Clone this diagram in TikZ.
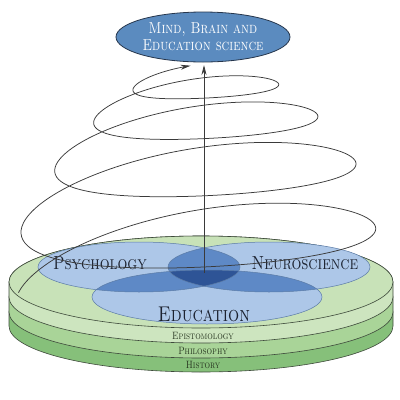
\documentclass[tikz,border=0pt]{standalone}
\usepackage{xcolor}
\usepackage{graphicx}
\usepackage{tikz}
\usetikzlibrary{arrows.meta,shapes.geometric}

\definecolor{mbeblue}{HTML}{5B8BBF}
\definecolor{mbeline}{HTML}{26364C}
\definecolor{venlight}{HTML}{ADC7E8}
\definecolor{venmid}{HTML}{5E89C6}
\definecolor{vendark}{HTML}{2E5496}
\definecolor{venline}{HTML}{5B7BA6}
\definecolor{topgreen}{HTML}{C8E2B8}
\definecolor{epigreen}{HTML}{CDE5BF}
\definecolor{phigreen}{HTML}{A9D498}
\definecolor{hisgreen}{HTML}{86C07A}
\definecolor{rimline}{HTML}{3E4A3B}
\definecolor{labelink}{HTML}{1C2230}
\definecolor{bandink}{HTML}{26341F}
\definecolor{spiralink}{HTML}{3A3A3A}

\newcommand{\tallsc}[1]{\scalebox{1}[1.22]{#1}}

\tikzset{
	rim/.style={draw=rimline,line width=.6pt},
	venn/.style={draw=venline,line width=.5pt},
	fieldlbl/.style={text=labelink,font=\fontsize{15.5}{18}\selectfont\scshape},
	bandlbl/.style={text=bandink,font=\fontsize{8.7}{10}\selectfont\scshape},
	spiral/.style={draw=spiralink,line width=.75pt}
}

\begin{document}
\begin{tikzpicture}[x=1pt,y=-1pt,>={Stealth[length=10pt,width=5pt]},
	declare function={
		spR(\n)=182-9.9*((\n-2)+sqrt((\n-2)^2+0.5));
		spH(\n)=277.7-40.12*\n+1.911*\n^2;
		spE(\n)=spR(\n)*(0.27-0.01*\n);
	}]
	\useasboundingbox (0,0) rectangle (400,400);
	
	% Base - camadas
	\filldraw[rim,fill=hisgreen] (9,312) -- (9,326) arc[start angle=180,end angle=0,x radius=192,y radius=46] -- (393,312) arc[start angle=0,end angle=-180,x radius=192,y radius=46] -- cycle;
	\filldraw[rim,fill=phigreen] (9,297) -- (9,312) arc[start angle=180,end angle=0,x radius=192,y radius=46] -- (393,297) arc[start angle=0,end angle=-180,x radius=192,y radius=46] -- cycle;
	\filldraw[rim,fill=epigreen] (9,282) -- (9,297) arc[start angle=180,end angle=0,x radius=192,y radius=46] -- (393,282) arc[start angle=0,end angle=-180,x radius=192,y radius=46] -- cycle;
	\filldraw[rim,fill=topgreen] (201,282) ellipse[x radius=192,y radius=46];
	
	% Venn
	\fill[venlight] (139,267) ellipse[x radius=101,y radius=25];
	\fill[venlight] (269,267) ellipse[x radius=101,y radius=25];
	\fill[venlight] (207,297) ellipse[x radius=115,y radius=27];
	\begin{scope}
		\clip (139,267) ellipse[x radius=101,y radius=25];
		\fill[venmid] (269,267) ellipse[x radius=101,y radius=25];
		\fill[venmid] (207,297) ellipse[x radius=115,y radius=27];
	\end{scope}
	\begin{scope}
		\clip (269,267) ellipse[x radius=101,y radius=25];
		\fill[venmid] (207,297) ellipse[x radius=115,y radius=27];
	\end{scope}
	\begin{scope}
		\clip (139,267) ellipse[x radius=101,y radius=25];
		\clip (269,267) ellipse[x radius=101,y radius=25];
		\fill[vendark] (207,297) ellipse[x radius=115,y radius=27];
	\end{scope}
	\draw[venn] (139,267) ellipse[x radius=101,y radius=25];
	\draw[venn] (269,267) ellipse[x radius=101,y radius=25];
	\draw[venn] (207,297) ellipse[x radius=115,y radius=27];
	
	% Rotulos
	\node[fieldlbl] (psy) at (100,263) {\tallsc{Psychology}};
	\node[fieldlbl] (neuro) at (305,263) {\tallsc{Neuroscience}};
	\node[fieldlbl,font=\fontsize{17.5}{20}\selectfont\scshape] (edu) at (204,314) {\tallsc{Education}};
	\node[bandlbl] (epi) at (203,336) {\tallsc{Epistomology}};
	\node[bandlbl] (phil) at (203,351) {\tallsc{Philosophy}};
	\node[bandlbl] (hist) at (203,365) {\tallsc{History}};
	
	% Topo
	\node[ellipse,draw=mbeline,line width=.8pt,fill=mbeblue,minimum width=174pt,minimum height=50pt,inner sep=0pt,
		text=white,align=center,font=\fontsize{13}{17}\selectfont\scshape] (mbe) at (203,37) {\tallsc{Mind, Brain and}\\\tallsc{Education science}};
	
	% Espiral
	\draw[spiral,->] plot[domain=0.06:8.47,samples=420,variable=\n,smooth]
		({196-spR(\n)*cos(180*\n)},
		 {spH(\n)-spE(\n)*sin(180*\n)+0.105*spR(\n)*cos(180*\n)+0.045*spR(\n)*cos(180*\n)^2});
	
	% Eixo
	\coordinate (hub) at (204,273);
	\coordinate (apex) at (204,65);
	\draw[spiral,->] (hub) -- (apex);
\end{tikzpicture}
\end{document}
